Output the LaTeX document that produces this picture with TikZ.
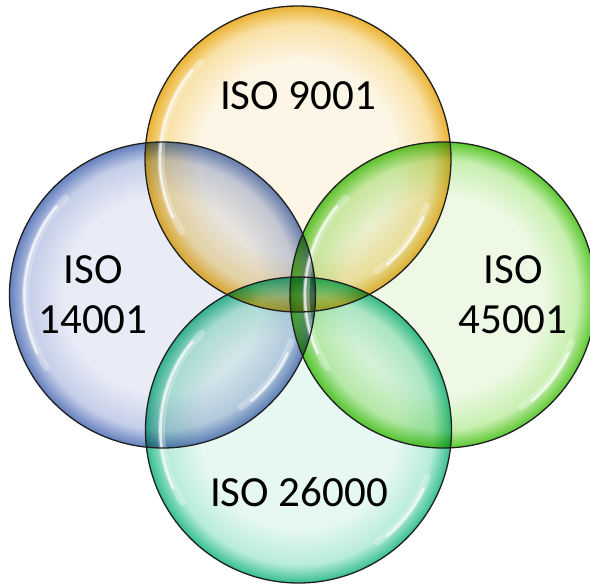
\documentclass[tikz,border=0pt]{standalone}
\usepackage{fontspec}
\setmainfont{Carlito}
\usetikzlibrary{calc}
\definecolor{Yin}{HTML}{FDF6E6}
\definecolor{Ymid}{HTML}{F9E2A8}
\definecolor{Yrim}{HTML}{EBB232}
\definecolor{Bin}{HTML}{E9ECF6}
\definecolor{Bmid}{HTML}{C5CEE9}
\definecolor{Brim}{HTML}{6580BE}
\definecolor{Gin}{HTML}{EEF9E5}
\definecolor{Gmid}{HTML}{C8EFB0}
\definecolor{Grim}{HTML}{5CC830}
\definecolor{Tin}{HTML}{E7F8F2}
\definecolor{Tmid}{HTML}{B8ECDA}
\definecolor{Trim}{HTML}{36BE92}
\pgfdeclareradialshading{shY}{\pgfpoint{0bp}{0bp}}{color(0bp)=(Yin); color(16bp)=(Yin); color(22bp)=(Ymid); color(25bp)=(Yrim); color(50bp)=(Yrim)}
\pgfdeclareradialshading{shB}{\pgfpoint{0bp}{0bp}}{color(0bp)=(Bin); color(16bp)=(Bin); color(22bp)=(Bmid); color(25bp)=(Brim); color(50bp)=(Brim)}
\pgfdeclareradialshading{shG}{\pgfpoint{0bp}{0bp}}{color(0bp)=(Gin); color(16bp)=(Gin); color(22bp)=(Gmid); color(25bp)=(Grim); color(50bp)=(Grim)}
\pgfdeclareradialshading{shT}{\pgfpoint{0bp}{0bp}}{color(0bp)=(Tin); color(16bp)=(Tin); color(22bp)=(Tmid); color(25bp)=(Trim); color(50bp)=(Trim)}
\tikzset{
  outline/.style={draw=black!88, line width=1.3pt},
  glosswide/.style={draw=white, line width=7pt, line cap=round, opacity=0.3},
  gloss/.style={draw=white, line width=2.6pt, line cap=round, opacity=0.7},
  label/.style={font=\fontsize{43}{50}\selectfont, align=center, text=black, inner sep=0pt}
}
\begin{document}
\begin{tikzpicture}[x=1pt,y=-1pt]
\useasboundingbox (0,0) rectangle (590,584);
\coordinate (cT) at (298,159);
\coordinate (cL) at (162.5,295);
\coordinate (cR) at (443,295);
\coordinate (cB) at (298.5,430);
\def\R{153pt}
\begin{scope}[blend group=multiply]
  \shade[shading=shY] (cT) circle[radius=\R];
  \shade[shading=shB] (cL) circle[radius=\R];
  \shade[shading=shG] (cR) circle[radius=\R];
  \shade[shading=shT] (cB) circle[radius=\R];
\end{scope}
% glossy highlights
\foreach \c in {cT,cL,cR,cB}{
  \draw[glosswide] ($(\c)+(135:137pt)$) arc[start angle=135, end angle=212, radius=137pt];
  \draw[gloss] ($(\c)+(140:138pt)$) arc[start angle=140, end angle=205, radius=138pt];
  \draw[glosswide] ($(\c)+(-20:137pt)$) arc[start angle=-20, end angle=-55, radius=137pt];
  \draw[gloss] ($(\c)+(-25:138pt)$) arc[start angle=-25, end angle=-50, radius=138pt];
}
\foreach \c in {cT,cL,cR,cB}{
  \draw[outline] (\c) circle[radius=\R];
}
\node[label] (t9001) at (298,96) {ISO 9001};
\node[label] (t14001) at (93,295) {ISO\\14001};
\node[label] (t45001) at (513,295) {ISO\\45001};
\node[label] (t26000) at (299,492) {ISO 26000};
\end{tikzpicture}
\end{document}
